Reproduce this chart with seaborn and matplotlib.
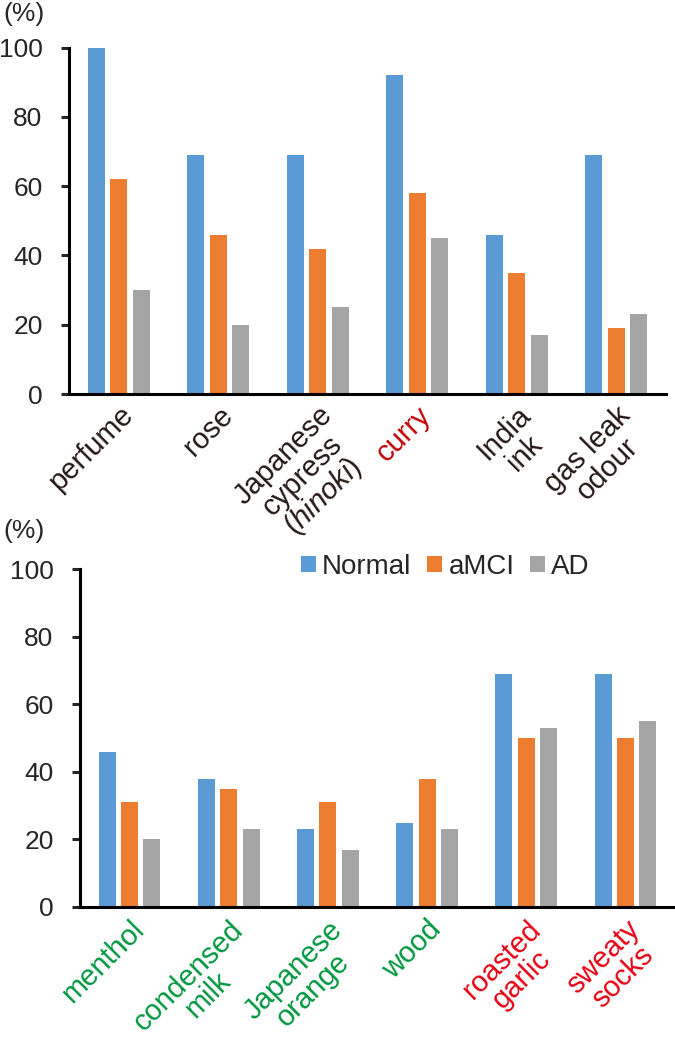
import numpy as np
import pandas as pd
import seaborn as sns
import matplotlib.pyplot as plt

#======data======
groups = ['Normal', 'aMCI', 'AD']
bar_colors = ['#5B9BD5', '#ED7D31', '#A5A5A5']

top_odours = ['perfume', 'rose', 'Japanese\ncypress\n($\\it{hinoki}$)', 'curry', 'India\nink', 'gas leak\nodour']
top_normal = [100, 69, 69, 92, 46, 69]
top_amci = [62, 46, 42, 58, 35, 19]
top_ad = [30, 20, 25, 45, 17, 23]
top_label_colors = ['#231815', '#231815', '#231815', '#C00000', '#231815', '#231815']

bottom_odours = ['menthol', 'condensed\nmilk', 'Japanese\norange', 'wood', 'roasted\ngarlic', 'sweaty\nsocks']
bottom_normal = [46, 38, 23, 25, 69, 69]
bottom_amci = [31, 35, 31, 38, 50, 50]
bottom_ad = [20, 23, 17, 23, 53, 55]
bottom_label_colors = ['#00973F', '#00973F', '#00973F', '#00973F', '#E60012', '#E60012']

y_ticks = [0, 20, 40, 60, 80, 100]

#======style======
sns.set_style('ticks')
plt.rcParams['font.family'] = ['Liberation Sans', 'DejaVu Sans']
plt.rcParams['mathtext.fontset'] = 'custom'
plt.rcParams['mathtext.rm'] = 'Liberation Sans'
plt.rcParams['mathtext.it'] = 'Liberation Sans:italic'


def make_df(odours, normal, amci, ad):
    rows = []
    for g, vals in zip(groups, [normal, amci, ad]):
        for o, v in zip(odours, vals):
            rows.append({'odour': o, 'group': g, 'pct': v})
    return pd.DataFrame(rows)


def draw_panel(ax, df, odours, label_colors, label_pad, legend):
    sns.barplot(data=df, x='odour', y='pct', hue='group', hue_order=groups,
                order=odours, palette=bar_colors, saturation=1,
                width=0.675, gap=0.24, linewidth=0, ax=ax, legend=legend)
    ax.set_xlim(-0.5, 5.5)
    ax.set_ylim(0, 100)
    ax.set_yticks(y_ticks)
    ax.set_yticklabels([str(t) for t in y_ticks], fontsize=19)
    ax.set_xlabel('')
    ax.set_ylabel('')
    for s in ['top', 'right']:
        ax.spines[s].set_visible(False)
    for s in ['left', 'bottom']:
        ax.spines[s].set_linewidth(2.2)
        ax.spines[s].set_color('black')
    ax.tick_params(axis='y', length=6, width=2.2, pad=13, direction='out')
    ax.tick_params(axis='x', length=0, pad=label_pad)
    ax.set_xticks(range(len(odours)))
    ax.set_xticklabels(odours, rotation=45, ha='right', va='top',
                       rotation_mode='anchor', multialignment='center',
                       linespacing=1.0, fontsize=21)
    for lab, c in zip(ax.get_xticklabels(), label_colors):
        lab.set_color(c)


fig = plt.figure(figsize=(6.75, 10.56), dpi=100)
ax1 = fig.add_axes([69 / 675, 1 - 394 / 1056, 597 / 675, 346.3 / 1056])
ax2 = fig.add_axes([80 / 675, 1 - 907 / 1056, 595 / 675, 337.7 / 1056])

draw_panel(ax1, make_df(top_odours, top_normal, top_amci, top_ad),
           top_odours, top_label_colors, 5, False)
draw_panel(ax2, make_df(bottom_odours, bottom_normal, bottom_amci, bottom_ad),
           bottom_odours, bottom_label_colors, 6, True)

#======legend======
old = ax2.get_legend()
handles = old.legend_handles
labels = [t.get_text() for t in old.texts]
old.remove()
ax2.legend(handles, labels, loc='center left', ncol=3, frameon=False,
           bbox_to_anchor=(301 / 675, 1 - 567 / 1056), bbox_transform=fig.transFigure,
           borderpad=0, borderaxespad=0, fontsize=20,
           handlelength=0.53, handleheight=0.53, handletextpad=0.23, columnspacing=0.57)

fig.text(3 / 675, 1 - 14 / 1056, '(%)', fontsize=19, ha='left', va='center')
fig.text(3 / 675, 1 - 531 / 1056, '(%)', fontsize=19, ha='left', va='center')

fig.savefig('out.png', dpi=100)
